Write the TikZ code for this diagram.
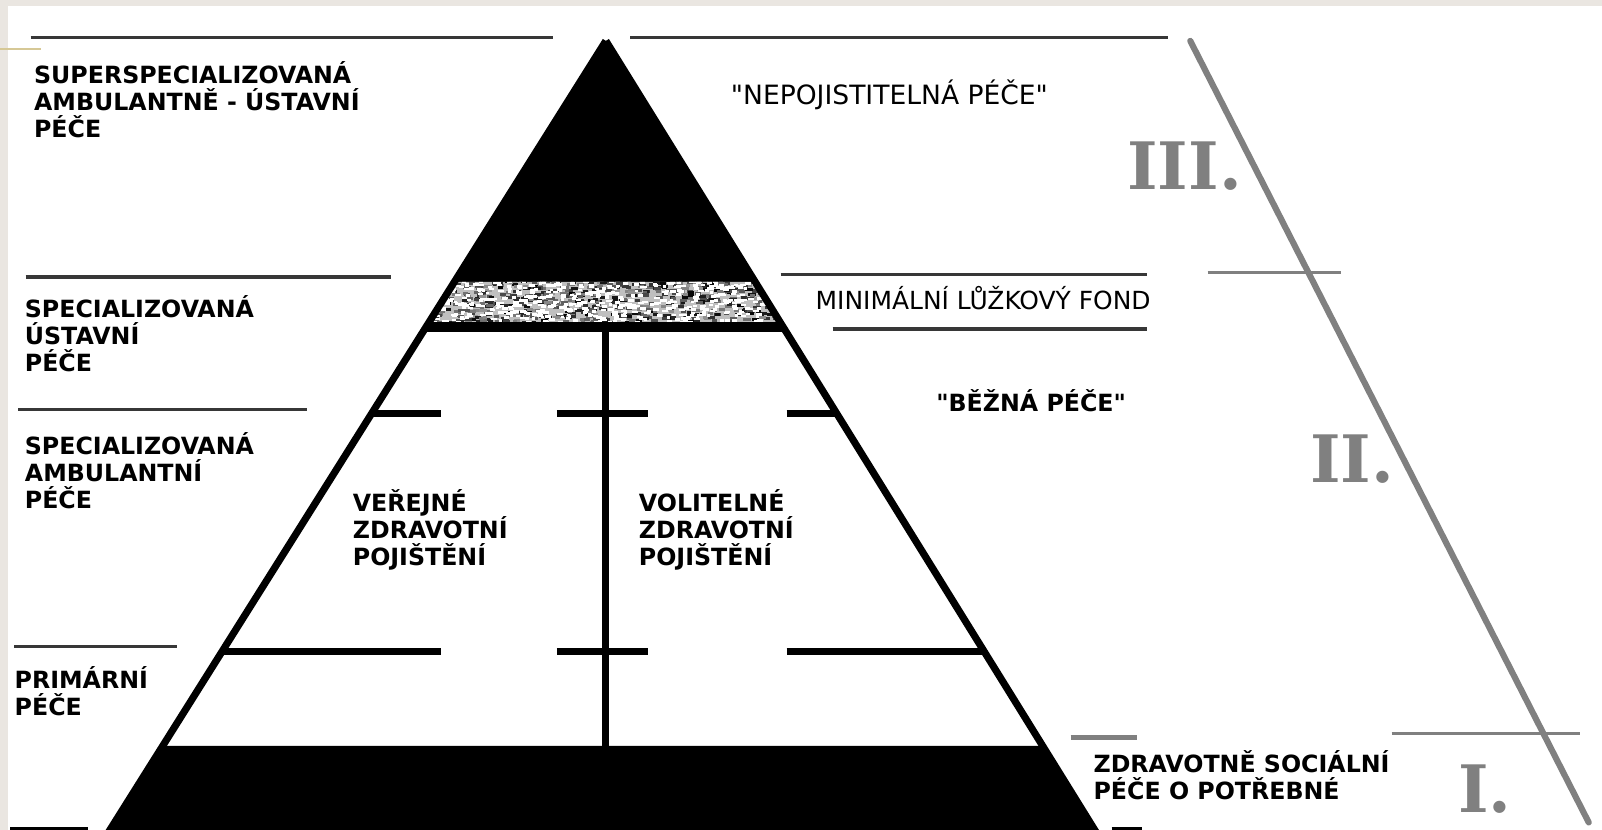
\documentclass[tikz,border=0pt]{standalone}
\usepackage{fontspec}
\setmainfont{DejaVu Sans}[Ligatures=TeXOff]
\newfontfamily\numfont{DejaVu Serif}
\definecolor{bgbeige}{RGB}{234,230,225}
\definecolor{linedark}{RGB}{55,55,55}
\definecolor{numgray}{RGB}{128,128,128}
\definecolor{oddline}{RGB}{214,200,150}
\newcommand\mystrut{\rule{0pt}{10.5pt}}
\begin{document}
\begin{tikzpicture}[x=0.5pt,y=-0.5pt,
  lbl/.style={anchor=north west, inner sep=0pt, align=left, font=\fontsize{11.6}{13.25}\selectfont\bfseries},
  lblr/.style={anchor=north west, inner sep=0pt, align=left, font=\fontsize{12.2}{13.25}\selectfont},
  roman/.style={anchor=base west, inner sep=0pt, text=numgray, font=\numfont\bfseries\fontsize{32}{32}\selectfont},
  darkrule/.style={draw=linedark, line width=1.5pt},
  grayrule/.style={draw=numgray, line width=1.5pt},
  pyr/.style={draw=black, line width=3.5pt},
  cross/.style={draw=black, line width=3.5pt}]
\useasboundingbox (0,0) rectangle (1568,812);
\fill[bgbeige] (0,0) rectangle (1568,812);
\fill[white] (8,6) rectangle (1568,812);
\draw[oddline, line width=0.8pt] (0,48) -- (40,48);

% pyramid key points
\coordinate (apex) at (593,40);
\coordinate (bl) at (104,818);
\coordinate (br) at (1075,818);
\coordinate (tl) at (445,276);
\coordinate (tr) at (739,276);
\coordinate (hl) at (418,320);
\coordinate (hr) at (766,320);
\coordinate (kl) at (160,730);
\coordinate (kr) at (1021,730);

% bottom black band
\fill[black] (kl) -- (kr) -- (br) -- (bl) -- cycle;
% top black triangle
\fill[black] (apex) -- (tr) -- (tl) -- cycle;
% speckled band
\begin{scope}
\clip (tl) -- (tr) -- (hr) -- (hl) -- cycle;
\fill[gray!50] (410,270) rectangle (780,325);
\pgfmathsetseed{7}
\foreach \i in {1,...,700}{
  \pgfmathsetmacro\rx{415+rnd*355}
  \pgfmathsetmacro\ry{272+rnd*48}
  \pgfmathsetmacro\sh{40+rnd*60}
  \fill[black!\sh] (\rx,\ry) rectangle ++(4+rnd*4,3);
}
\foreach \i in {1,...,600}{
  \pgfmathsetmacro\rx{415+rnd*330}
  \pgfmathsetmacro\ry{272+rnd*48}
  \fill[white] (\rx,\ry) rectangle ++(3+rnd*3,2.5);
}
\end{scope}
% sides
\draw[pyr] (apex) -- (bl);
\draw[pyr] (apex) -- (br);
\draw[draw=black, line width=4.5pt] (hl) -- (hr);

% internal dividers
\coordinate (vt) at (593,320);
\coordinate (vb) at (593,731);
\draw[cross] (vt) -- (vb);
\coordinate (a1) at (364,405); \coordinate (a2) at (432,405);
\coordinate (a3) at (545,405); \coordinate (a4) at (634,405);
\coordinate (a5) at (770,405); \coordinate (a6) at (819,405);
\coordinate (b1) at (217,638); \coordinate (b2) at (432,638);
\coordinate (b3) at (545,638); \coordinate (b4) at (634,638);
\coordinate (b5) at (770,638); \coordinate (b6) at (964,638);
\draw[cross] (a1) -- (a2); \draw[cross] (a3) -- (a4); \draw[cross] (a5) -- (a6);
\draw[cross] (b1) -- (b2); \draw[cross] (b3) -- (b4); \draw[cross] (b5) -- (b6);

% outside rules
\coordinate (ra1) at (30,37);  \coordinate (ra2) at (541,37);
\coordinate (rb1) at (617,37); \coordinate (rb2) at (1143,37);
\coordinate (rc1) at (25,271); \coordinate (rc2) at (383,271);
\coordinate (rd1) at (764,269); \coordinate (rd2) at (1123,269);
\coordinate (rf1) at (815,322); \coordinate (rf2) at (1123,322);
\coordinate (rg1) at (18,401); \coordinate (rg2) at (300,401);
\coordinate (rh1) at (14,633); \coordinate (rh2) at (173,633);
\draw[darkrule] (ra1) -- (ra2);
\draw[darkrule] (rb1) -- (rb2);
\draw[darkrule, line width=2pt] (rc1) -- (rc2);
\draw[darkrule] (rd1) -- (rd2);
\draw[darkrule] (rf1) -- (rf2);
\draw[darkrule] (rg1) -- (rg2);
\draw[darkrule] (rh1) -- (rh2);
\coordinate (bz1) at (10,811); \coordinate (bz2) at (86,811);
\coordinate (bz3) at (1088,811); \coordinate (bz4) at (1118,811);
\draw[draw=black, line width=1.5pt] (bz1) -- (bz2);
\draw[draw=black, line width=1.5pt] (bz3) -- (bz4);

% gray rules and diagonal
\coordinate (re1) at (1182,267); \coordinate (re2) at (1313,267);
\coordinate (rj1) at (1362,718); \coordinate (rj2) at (1546,718);
\coordinate (ri1) at (1048,722); \coordinate (ri2) at (1113,722);
\coordinate (dg1) at (1165,40);  \coordinate (dg2) at (1555,805);
\draw[grayrule] (re1) -- (re2);
\draw[grayrule] (rj1) -- (rj2);
\draw[grayrule, line width=2.5pt] (ri1) -- (ri2);
\draw[draw=numgray, line width=3pt, line cap=round] (dg1) -- (dg2);

% labels
\node[lbl] (sup) at (33,60) {\mystrut SUPERSPECIALIZOVANÁ\\AMBULANTNĚ - ÚSTAVNÍ\\PÉČE};
\node[lblr, font=\fontsize{13}{13.25}\selectfont] (nep) at (715,78) {\mystrut "NEPOJISTITELNÁ PÉČE"};
\node[lbl] (sua) at (24,289) {\mystrut SPECIALIZOVANÁ\\ÚSTAVNÍ\\PÉČE};
\node[lblr] (min) at (798,280) {\mystrut MINIMÁLNÍ LŮŽKOVÝ FOND};
\node[lbl] (bez) at (916,381) {\mystrut "BĚŽNÁ PÉČE"};
\node[lbl] (sam) at (24,423) {\mystrut SPECIALIZOVANÁ\\AMBULANTNÍ\\PÉČE};
\node[lbl] (vzp) at (345,479) {\mystrut VEŘEJNÉ\\ZDRAVOTNÍ\\POJIŠTĚNÍ};
\node[lbl] (vol) at (625,479) {\mystrut VOLITELNÉ\\ZDRAVOTNÍ\\POJIŠTĚNÍ};
\node[lbl] (pri) at (14,652) {\mystrut PRIMÁRNÍ\\PÉČE};
\node[lbl] (zsp) at (1070,734) {\mystrut ZDRAVOTNĚ SOCIÁLNÍ\\PÉČE O POTŘEBNÉ};
\node[roman] (r3) at (1103,185) {III.};
\node[roman] (r2) at (1282,472) {II.};
\node[roman] (r1) at (1427,795) {I.};
\end{tikzpicture}
\end{document}
